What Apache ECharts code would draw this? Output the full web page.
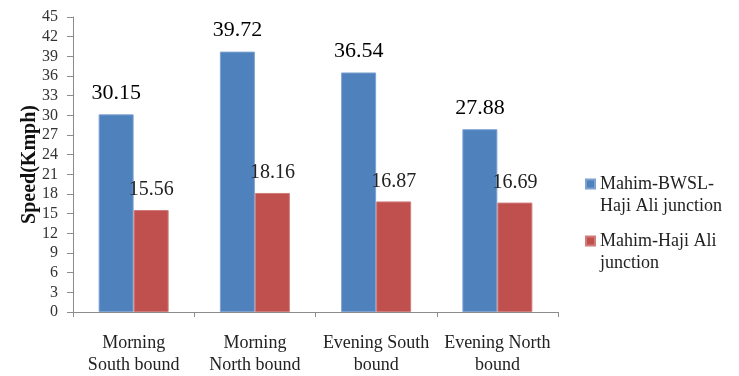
<!DOCTYPE html>
<html>
<head>
<meta charset="utf-8">
<script src="https://cdn.jsdelivr.net/npm/echarts@6/dist/echarts.min.js"></script>
<style>
  html, body { margin: 0; padding: 0; background: #fff; }
  #chart { width: 739px; height: 376px; }
</style>
</head>
<body>
<div id="chart"></div>
<script>
// Time period / direction of travel
const categories = ['Morning\nSouth bound', 'Morning\nNorth bound', 'Evening South\nbound', 'Evening North\nbound'];
// Average speed (km/h) per route
const seriesNames = ['Mahim-BWSL-Haji Ali junction', 'Mahim-Haji Ali junction'];
const bwslSpeeds = [30.15, 39.72, 36.54, 27.88];
const directSpeeds = [15.56, 18.16, 16.87, 16.69];
// Legend text, wrapped; the leading blank line keeps the swatch level with the first line
const legendText = {
  'Mahim-BWSL-Haji Ali junction': ' \nMahim-BWSL-\nHaji Ali junction',
  'Mahim-Haji Ali junction': ' \nMahim-Haji Ali\njunction'
};

const serif = "'Times New Roman', 'Liberation Serif', 'DejaVu Serif', serif";
const chart = echarts.init(document.getElementById('chart'));

chart.setOption({
  animation: false,
  backgroundColor: '#ffffff',
  textStyle: { fontFamily: serif },
  grid: { left: 73, right: 181, top: 17, bottom: 58 },
  legend: {
    orient: 'vertical',
    left: 585,
    top: 151,
    padding: 0,
    itemWidth: 9,
    itemHeight: 9,
    itemGap: -9,
    icon: 'rect',
    textStyle: {
      fontFamily: serif,
      fontSize: 18,
      color: '#222',
      lineHeight: 22
    },
    formatter: name => legendText[name] || name,
    data: seriesNames
  },
  xAxis: {
    type: 'category',
    data: categories,
    axisLine: { lineStyle: { color: '#8c8c8c' } },
    axisTick: { show: true, length: 5, lineStyle: { color: '#8c8c8c' } },
    axisLabel: {
      interval: 0,
      margin: 20,
      fontFamily: serif,
      fontSize: 18,
      lineHeight: 22,
      color: '#222'
    }
  },
  yAxis: {
    type: 'value',
    min: 0,
    max: 45,
    interval: 3,
    name: 'Speed(Kmph)',
    nameLocation: 'middle',
    nameGap: 33,
    nameMoveOverlap: false,
    nameTextStyle: {
      fontFamily: serif,
      fontSize: 20,
      fontWeight: 'bold',
      color: '#111'
    },
    axisLine: { show: true, lineStyle: { color: '#8c8c8c' } },
    axisTick: { show: true, length: 6, lineStyle: { color: '#8c8c8c' } },
    splitLine: { show: false },
    axisLabel: {
      margin: 15,
      fontFamily: serif,
      fontSize: 16,
      color: '#333'
    }
  },
  series: [
    {
      name: seriesNames[0],
      type: 'bar',
      data: bwslSpeeds,
      barWidth: 35,
      barGap: '0%',
      itemStyle: { color: '#4F81BD', borderColor: '#7DA2D2', borderWidth: 1 },
      label: {
        show: true,
        position: 'top',
        distance: 10,
        fontFamily: serif,
        fontSize: 22,
        color: '#000',
        formatter: p => p.value.toFixed(2)
      }
    },
    {
      name: seriesNames[1],
      type: 'bar',
      data: directSpeeds,
      barWidth: 35,
      barGap: '0%',
      itemStyle: { color: '#C0504D', borderColor: '#D07C7A', borderWidth: 1 },
      label: {
        show: true,
        position: 'top',
        distance: 10,
        fontFamily: serif,
        fontSize: 20,
        color: '#222',
        formatter: p => p.value.toFixed(2)
      }
    }
  ]
});
</script>
</body>
</html>
